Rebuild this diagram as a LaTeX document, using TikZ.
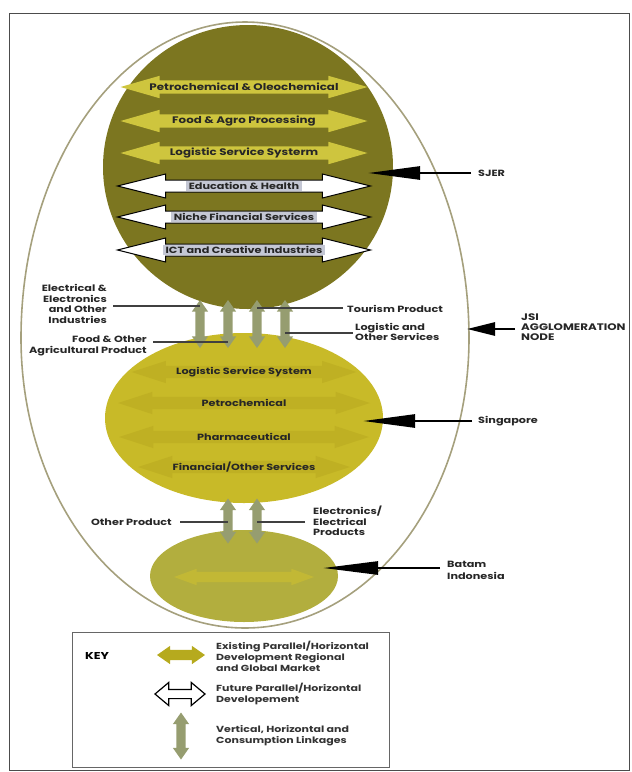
\documentclass[tikz,border=0pt]{standalone}
\usepackage{fontspec}
\setmainfont{Poppins}[FakeStretch=1.25]
\usetikzlibrary{shapes.arrows,shapes.geometric,arrows.meta}
\definecolor{olivedark}{RGB}{124,118,32}
\definecolor{yarr}{RGB}{206,197,62}
\definecolor{sing}{RGB}{200,186,40}
\definecolor{singarr}{RGB}{176,160,26}
\definecolor{batam}{RGB}{178,174,62}
\definecolor{batarr}{RGB}{210,194,46}
\definecolor{sage}{RGB}{150,157,112}
\definecolor{eggline}{RGB}{165,160,125}
\definecolor{keyy}{RGB}{182,170,30}
\definecolor{wlab}{RGB}{196,199,212}
\begin{document}
\begin{tikzpicture}[x=1pt,y=-1pt,
  yarrow/.style={double arrow, fill=yarr, draw=none, inner xsep=0pt, inner ysep=6.5pt,
    double arrow head extend=4.5pt, double arrow tip angle=32, minimum height=#1},
  warrow/.style={double arrow, fill=white, draw=black, line width=1pt, inner xsep=0pt, inner ysep=5.5pt,
    double arrow head extend=6pt, double arrow tip angle=28, minimum height=#1},
  sarrow/.style={double arrow, fill=singarr, fill opacity=0.35, draw=none, inner xsep=0pt, inner ysep=6pt,
    double arrow head extend=5pt, double arrow tip angle=36, minimum height=#1},
  varrow/.style={double arrow, rotate=90, fill=sage, draw=none, inner xsep=0pt, inner ysep=4.5pt,
    double arrow head extend=3.5pt, double arrow tip angle=70, minimum height=#1},
  rowtxt/.style={font=\fontsize{9.5}{10}\selectfont\bfseries, text=black!85, inner sep=0pt},
  srowtxt/.style={font=\fontsize{9}{10}\selectfont\bfseries, text=black!85, inner sep=0pt},
  wtxt/.style={font=\fontsize{9}{10}\selectfont\bfseries, text=black!85, fill=wlab, inner xsep=3pt, inner ysep=1pt},
  lbl/.style={font=\fontsize{9}{10.5}\selectfont\bfseries, text=black!85, inner sep=0pt},
  keytxt/.style={font=\fontsize{8.8}{11}\selectfont\bfseries, text=black!80, inner sep=0pt, align=left, anchor=west},
  conn/.style={draw=black!75, line width=1.1pt},
  ptr/.style={draw=black, line width=2.6pt, -{Triangle[length=#1,width=13pt]}},
  blob/.style={ellipse, draw=none, inner sep=0pt}
]
\useasboundingbox (0,0) rectangle (632,772);
% frame
\node[draw=black!70, line width=1.1pt, minimum width=620pt, minimum height=757pt, anchor=north west, inner sep=0pt] (frame) at (9,13) {};
% outer egg
\draw[eggline, line width=1.6pt] (21,338) arc[start angle=180, end angle=360, x radius=224, y radius=316]
  arc[start angle=0, end angle=180, x radius=224, y radius=290];
% blobs
\node[blob, fill=olivedark, minimum width=290pt, minimum height=284pt] (sjer) at (248,167) {};
\node[blob, fill=sing, minimum width=278pt, minimum height=170pt] (sing) at (244,418) {};
\node[blob, fill=batam, minimum width=188pt, minimum height=92pt] (batam) at (244,576) {};
% SJER rows
\node[yarrow=247pt] (ya1) at (244,87) {};
\node[yarrow=247pt] (ya2) at (244,121) {};
\node[yarrow=247pt] (ya3) at (244,153) {};
\node[warrow=253pt] (wa1) at (244,186) {};
\node[warrow=253pt] (wa2) at (244,217) {};
\node[warrow=253pt] (wa3) at (244,250) {};
\node[rowtxt] (t1) at (ya1) {Petrochemical \& Oleochemical};
\node[rowtxt] (t2) at (ya2) {Food \& Agro Processing};
\node[rowtxt] (t3) at (ya3) {Logistic Service Systerm};
\node[wtxt] (t4) at (wa1) {Education \& Health};
\node[wtxt] (t5) at (wa2) {Niche Financial Services};
\node[wtxt] (t6) at (wa3) {ICT and Creative Industries};
% Singapore rows
\node[sarrow=225pt] (sa1) at (244,372) {};
\node[sarrow=252pt] (sa2) at (244,403) {};
\node[sarrow=250pt] (sa3) at (244,437) {};
\node[sarrow=212pt] (sa4) at (244,467) {};
\node[srowtxt] (s1) at (sa1) {Logistic Service System};
\node[srowtxt] (s2) at (sa2) {Petrochemical};
\node[srowtxt] (s3) at (sa3) {Pharmaceutical};
\node[srowtxt] (s4) at (sa4) {Financial/Other Services};
% Batam inner band
\node[double arrow, fill=batarr, fill opacity=0.5, inner xsep=0pt, inner ysep=5pt,
  double arrow head extend=3pt, double arrow tip angle=40, minimum height=140pt] (ba1) at (244,577) {};
% vertical linkage arrows
\node[varrow=48pt] (v1) at (200,324) {};
\node[varrow=48pt] (v2) at (228,324) {};
\node[varrow=48pt] (v3) at (257,324) {};
\node[varrow=48pt] (v4) at (285,324) {};
\node[varrow=45pt] (v5) at (228,521) {};
\node[varrow=45pt] (v6) at (257,521) {};
% labels of linkages
\node[lbl, align=right, anchor=east] (elec) at (107,304) {Electrical \&\\Electronics\\and Other\\Industries};
\node[lbl, align=right, anchor=east] (food) at (147,346) {Food \& Other\\Agricultural Product};
\node[lbl, anchor=west] (tour) at (347,309) {Tourism Product};
\node[lbl, align=left, anchor=west] (logi) at (355,332) {Logistic and\\Other Services};
\node[lbl, anchor=east] (othp) at (172,522) {Other Product};
\node[lbl, align=left, anchor=west] (elep) at (313,521) {Electronics/\\Electrical\\Products};
\coordinate (c1) at (113,306);
\coordinate (c2) at (153,342);
\coordinate (c3) at (343,308);
\coordinate (c4) at (353,333);
\coordinate (c5) at (180,522);
\coordinate (c6) at (305,522);
\draw[conn] (c1) -- (c1 -| v1);
\draw[conn] (c2) -- (c2 -| v2);
\draw[conn] (c3) -- (c3 -| v3);
\draw[conn] (c4) -- (c4 -| v4);
\draw[conn] (c5) -- (c5 -| v5);
\draw[conn] (c6) -- (c6 -| v6);
% pointers
\node[lbl, anchor=west] (sjerl) at (478,173) {SJER};
\node[lbl, font=\fontsize{9.5}{10}\selectfont\bfseries, align=left, anchor=west] (jsil) at (521,327) {JSI\\AGGLOMERATION\\NODE};
\node[lbl, anchor=west] (singl) at (478,421) {Singapore};
\node[lbl, font=\fontsize{9}{12}\selectfont\bfseries, align=left, anchor=west] (batl) at (447,570) {Batam\\Indonesia};
\coordinate (sjertip) at (368,173);
\coordinate (jsitip) at (467,329);
\coordinate (singtip) at (363,421);
\coordinate (battip) at (323,568);
\draw[ptr=52pt] ([xshift=-7pt]sjerl.west) -- (sjertip);
\draw[ptr=28pt] ([xshift=-6pt]jsil.west |- jsitip) -- (jsitip);
\draw[ptr=52pt] ([xshift=-6pt]singl.west) -- (singtip);
\draw[ptr=55pt] ([xshift=-7pt]batl.west |- battip) -- (battip);
% key
\node[draw=black!60, line width=1.2pt, minimum width=317pt, minimum height=135pt, anchor=north west, inner sep=0pt] (keybox) at (72,632) {};
\node[font=\fontsize{10}{12}\selectfont\bfseries, anchor=west, inner sep=0pt] (keyt) at (85,656) {KEY};
\node[double arrow, fill=keyy, draw=none, inner xsep=0pt, inner ysep=5pt, double arrow head extend=4pt,
  double arrow tip angle=70, minimum height=48pt] (k1) at (181,655) {};
\node[double arrow, fill=white, draw=black, line width=1.2pt, inner xsep=0pt, inner ysep=4pt, double arrow head extend=7pt,
  double arrow tip angle=80, minimum height=50pt] (k2) at (180,694) {};
\node[varrow=47pt] (k3) at (181,736) {};
\node[keytxt] (k1t) at (216,656) {Existing Parallel/Horizontal\\Development Regional\\and Global Market};
\node[keytxt] (k2t) at (216,694) {Future Parallel/Horizontal\\Developement};
\node[keytxt] (k3t) at (216,736) {Vertical, Horizontal and\\Consumption Linkages};
\end{tikzpicture}
\end{document}
